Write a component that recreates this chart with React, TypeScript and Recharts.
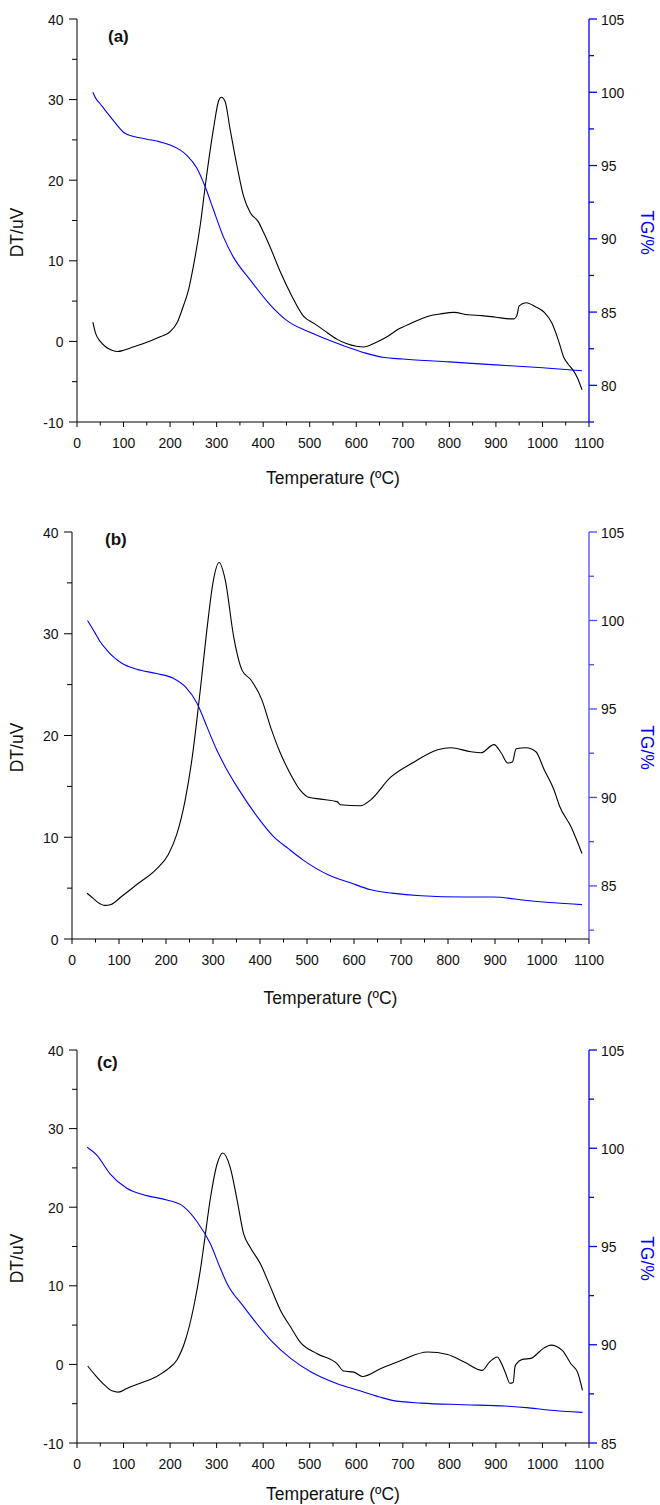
import React from "react";
import { LineChart, Line, XAxis, YAxis } from "recharts";

const FONT = "'Liberation Sans', Arial, Helvetica, sans-serif";

// shared temperature axis (ºC)
const tempTicks = [0, 50, 100, 150, 200, 250, 300, 350, 400, 450, 500, 550, 600, 650, 700, 750, 800, 850, 900, 950, 1000, 1050, 1100];

// ---- (a) ----
const dtA: [number, number][] = [
  [34, 2.4], [40, 1.0], [50, 0.0], [60, -0.6], [75, -1.1], [88, -1.25], [100, -1.1], [120, -0.7],
  [150, -0.1], [180, 0.6], [200, 1.2], [215, 2.3], [228, 4.3], [240, 6.5], [250, 9.3], [265, 14.5],
  [276, 19.5], [293, 26.3], [304, 29.8], [310, 30.3], [318, 29.8], [329, 26.3], [344, 21.7], [358, 18],
  [372, 16], [390, 14.8], [401, 13.5], [420, 11], [437, 8.6], [460, 5.8], [487, 3.1], [510, 2.2],
  [530, 1.4], [559, 0.25], [580, -0.3], [600, -0.6], [616, -0.7], [640, -0.2], [667, 0.6], [690, 1.5],
  [720, 2.3], [753, 3.1], [780, 3.4], [810, 3.6], [840, 3.3], [870, 3.2], [900, 3.0], [930, 2.8],
  [939, 2.8], [945, 3.2], [950, 4.4], [965, 4.8], [985, 4.3], [1004, 3.6], [1020, 2.3], [1035, 0],
  [1046, -2], [1055, -2.8], [1065, -3.5], [1075, -4.5], [1085, -6.0],
];
const tgA: [number, number][] = [
  [34, 100], [40, 99.6], [50, 99.2], [60, 98.8], [80, 98.0], [103, 97.2], [120, 97.0], [150, 96.8],
  [180, 96.6], [200, 96.4], [222, 96.05], [236, 95.7], [258, 94.8], [276, 93.5], [293, 92], [315, 90.1],
  [336, 88.75], [372, 87.2], [415, 85.5], [452, 84.4], [502, 83.6], [573, 82.7], [620, 82.2], [660, 81.9],
  [700, 81.8], [800, 81.6], [900, 81.4], [1000, 81.2], [1085, 81.0],
];
const dtTicksA = [-10, -5, 0, 5, 10, 15, 20, 25, 30, 35, 40];
const tgTicksA = [77.5, 80, 82.5, 85, 87.5, 90, 92.5, 95, 97.5, 100, 102.5, 105];

// ---- (b) ----
const dtB: [number, number][] = [
  [32, 4.5], [45, 4.0], [55, 3.6], [70, 3.3], [83, 3.4], [106, 4.2], [142, 5.5], [178, 6.8],
  [205, 8.3], [223, 10.3], [241, 13.7], [255, 17.6], [273, 24.5], [287, 30.4], [301, 35.3], [313, 37.0],
  [326, 35.3], [344, 29.7], [362, 26.4], [380, 25.5], [404, 23.5], [422, 20.9], [443, 18.3], [465, 16.2],
  [486, 14.6], [505, 13.9], [529, 13.75], [564, 13.5], [571, 13.2], [614, 13.1], [635, 13.65], [678, 15.9],
  [728, 17.4], [778, 18.6], [806, 18.8], [849, 18.4], [870, 18.3], [898, 19.1], [913, 18.3], [927, 17.3],
  [937, 17.4], [945, 18.7], [966, 18.8], [987, 18.4], [1005, 16.6], [1026, 14.6], [1037, 13.1],
  [1062, 11.0], [1085, 8.4],
];
const tgB: [number, number][] = [
  [33, 100.0], [49, 99.3], [60, 98.8], [74, 98.33], [90, 97.9], [106, 97.58], [138, 97.24], [180, 97.0],
  [216, 96.73], [241, 96.26], [266, 95.32], [287, 94.0], [308, 92.68], [326, 91.74], [351, 90.61],
  [394, 88.92], [429, 87.79], [461, 87.09], [492, 86.46], [546, 85.62], [591, 85.19], [636, 84.78],
  [681, 84.59], [743, 84.44], [833, 84.37], [896, 84.37], [968, 84.18], [1085, 83.94],
];
const dtTicksB = [0, 5, 10, 15, 20, 25, 30, 35, 40];
const tgTicksB = [82.5, 85, 87.5, 90, 92.5, 95, 97.5, 100, 102.5, 105];

// ---- (c) ----
const dtC: [number, number][] = [
  [23, -0.2], [39, -1.36], [57, -2.5], [75, -3.36], [89, -3.53], [107, -3.06], [134, -2.43], [170, -1.57],
  [197, -0.51], [215, 0.6], [233, 3.1], [251, 7.4], [265, 12.0], [272, 14.9], [287, 21.3], [301, 25.5],
  [313, 26.9], [329, 25.1], [344, 20.9], [358, 16.6], [372, 14.9], [394, 12.8], [416, 9.8], [437, 6.9],
  [459, 4.75], [480, 2.8], [516, 1.36], [559, 0.08], [573, -0.85], [595, -0.98], [613, -1.53], [652, -0.55],
  [696, 0.5], [753, 1.57], [796, 1.27], [832, 0.3], [871, -0.76], [886, 0.3], [903, 0.95], [912, 0.1],
  [921, -1.15], [930, -2.4], [937, -2.3], [941, -0.3], [945, 0.13], [957, 0.64], [975, 0.77], [1002, 2.04],
  [1018, 2.45], [1043, 1.75], [1061, 0.08], [1076, -1.1], [1086, -3.3],
];
const tgC: [number, number][] = [
  [22, 100.05], [42, 99.66], [71, 98.7], [107, 97.96], [150, 97.59], [193, 97.37], [229, 97.03], [258, 96.26],
  [286, 95.16], [308, 93.89], [322, 93.13], [358, 91.94], [416, 90.24], [459, 89.31], [502, 88.63],
  [559, 88.02], [604, 87.68], [650, 87.34], [677, 87.17], [740, 87.03], [830, 86.95], [921, 86.88],
  [966, 86.8], [1011, 86.68], [1086, 86.56],
];
const dtTicksC = [-10, -5, 0, 5, 10, 15, 20, 25, 30, 35, 40];
const tgTicksC = [85, 87.5, 90, 92.5, 95, 97.5, 100, 102.5, 105];

const toRows = (pts: [number, number][]) => pts.map(([t, v]) => ({ t, v }));

// slightly narrow tick numbers like the original plotting software
const tickText = (x: number, y: number, value: number, anchor: "start" | "middle" | "end") => (
  <g transform={`translate(${x},${y}) scale(0.93,1)`}>
    <text x={0} y={0} textAnchor={anchor} fontSize={15} fontFamily={FONT} fill="#111">
      {value}
    </text>
  </g>
);

function bottomTick(props: any) {
  const { x, y, payload } = props;
  const major = payload.value % 100 === 0;
  return (
    <g>
      <line x1={x} x2={x} y1={y} y2={y + (major ? 5 : 3.5)} stroke="#000" />
      {major && tickText(x, y + 26, payload.value, "middle")}
    </g>
  );
}

function leftTick(props: any) {
  const { x, y, payload } = props;
  const major = payload.value % 10 === 0;
  return (
    <g>
      <line x1={x - (major ? 8 : 5)} x2={x} y1={y} y2={y} stroke="#000" />
      {major && tickText(x - 13.5, y + 5.5, payload.value, "end")}
    </g>
  );
}

const rightTick = (color: string) => (props: any) => {
  const { x, y, payload } = props;
  const major = payload.value % 5 === 0;
  return (
    <g>
      <line x1={x} x2={x + (major ? 8 : 5)} y1={y} y2={y} stroke={color} strokeWidth={1.3} />
      {major && tickText(x + 12, y + 5.5, payload.value, "start")}
    </g>
  );
};

type PanelProps = {
  letter: string;
  letterX: number;
  letterY: number;
  top: number;
  height: number;
  marginTop: number;
  leftWidth: number;
  xHeight: number;
  titleBaseline: number;
  dt: [number, number][];
  tg: [number, number][];
  dtDomain: [number, number];
  dtTicks: number[];
  tgDomain: [number, number];
  tgTicks: number[];
  tgAxisColor: string;
};

function Panel(p: PanelProps) {
  const dtRows = toRows(p.dt);
  const tgRows = toRows(p.tg);

  const tempTitle = (props: any) => {
    const vb = props.viewBox;
    return (
      <text x={vb.x + vb.width / 2} y={vb.y + p.titleBaseline} textAnchor="middle" fontSize={17.5} fontFamily={FONT} fill="#111">
        Temperature (ºC)
      </text>
    );
  };

  const dtTitle = (props: any) => {
    const vb = props.viewBox;
    const cx = vb.x + 17;
    const cy = vb.y + vb.height / 2 + 12;
    return (
      <g>
        <text x={cx} y={cy} transform={`rotate(-90, ${cx}, ${cy})`} textAnchor="middle" dominantBaseline="central" fontSize={17.5} fontFamily={FONT} fill="#111">
          DT/uV
        </text>
        <text x={p.letterX} y={p.letterY} fontSize={17} fontWeight="bold" fontFamily={FONT} fill="#111">
          {p.letter}
        </text>
      </g>
    );
  };

  const tgTitle = (props: any) => {
    const vb = props.viewBox;
    const cx = vb.x + vb.width - 13;
    const cy = vb.y + vb.height / 2 + 12;
    return (
      <text x={cx} y={cy} transform={`rotate(90, ${cx}, ${cy})`} textAnchor="middle" dominantBaseline="central" fontSize={17.5} fontFamily={FONT} fill="#0000ff">
        TG/%
      </text>
    );
  };

  return (
    <div style={{ position: "absolute", left: 0, top: p.top }}>
      <LineChart width={660} height={p.height} margin={{ top: p.marginTop, right: 0, bottom: 0, left: 0 }}>
        <XAxis
          dataKey="t"
          type="number"
          domain={[0, 1100]}
          ticks={tempTicks}
          interval={0}
          height={p.xHeight}
          tickSize={0}
          tickMargin={0}
          tickLine={false}
          axisLine={{ stroke: "#000" }}
          tick={bottomTick}
          allowDataOverflow
          label={tempTitle}
        />
        <YAxis
          yAxisId="dt"
          orientation="left"
          type="number"
          domain={p.dtDomain}
          ticks={p.dtTicks}
          interval={0}
          width={p.leftWidth}
          tickSize={0}
          tickMargin={0}
          tickLine={false}
          axisLine={{ stroke: "#000" }}
          tick={leftTick}
          allowDataOverflow
          label={dtTitle}
        />
        <YAxis
          yAxisId="tg"
          orientation="right"
          type="number"
          domain={p.tgDomain}
          ticks={p.tgTicks}
          interval={0}
          width={71}
          tickSize={0}
          tickMargin={0}
          tickLine={false}
          axisLine={{ stroke: p.tgAxisColor, strokeWidth: 1.3 }}
          tick={rightTick(p.tgAxisColor)}
          allowDataOverflow
          label={tgTitle}
        />
        <Line
          yAxisId="dt"
          data={dtRows}
          dataKey="v"
          type="monotone"
          stroke="#000"
          strokeWidth={1.1}
          dot={false}
          activeDot={false}
          isAnimationActive={false}
        />
        <Line
          yAxisId="tg"
          data={tgRows}
          dataKey="v"
          type="monotone"
          stroke="#0000ff"
          strokeWidth={1.1}
          dot={false}
          activeDot={false}
          isAnimationActive={false}
        />
      </LineChart>
    </div>
  );
}

export default function App() {
  return (
    <div style={{ position: "absolute", left: 0, top: 0, width: 660, height: 1505, background: "#fff" }}>
      <Panel
        letter="(a)" letterX={108} letterY={42}
        top={0} height={500} marginTop={19} leftWidth={77} xHeight={78} titleBaseline={62}
        dt={dtA} tg={tgA}
        dtDomain={[-10, 40]} dtTicks={dtTicksA}
        tgDomain={[77.5, 105]} tgTicks={tgTicksA}
        tgAxisColor="#0000ff"
      />
      <Panel
        letter="(b)" letterX={105} letterY={34.5}
        top={510} height={500} marginTop={22} leftWidth={72} xHeight={71} titleBaseline={65}
        dt={dtB} tg={tgB}
        dtDomain={[0, 40]} dtTicks={dtTicksB}
        tgDomain={[82, 105]} tgTicks={tgTicksB}
        tgAxisColor="#4a4aff"
      />
      <Panel
        letter="(c)" letterX={97} letterY={47.5}
        top={1020} height={485} marginTop={30} leftWidth={77} xHeight={62} titleBaseline={57}
        dt={dtC} tg={tgC}
        dtDomain={[-10, 40]} dtTicks={dtTicksC}
        tgDomain={[85, 105]} tgTicks={tgTicksC}
        tgAxisColor="#0000ff"
      />
    </div>
  );
}
